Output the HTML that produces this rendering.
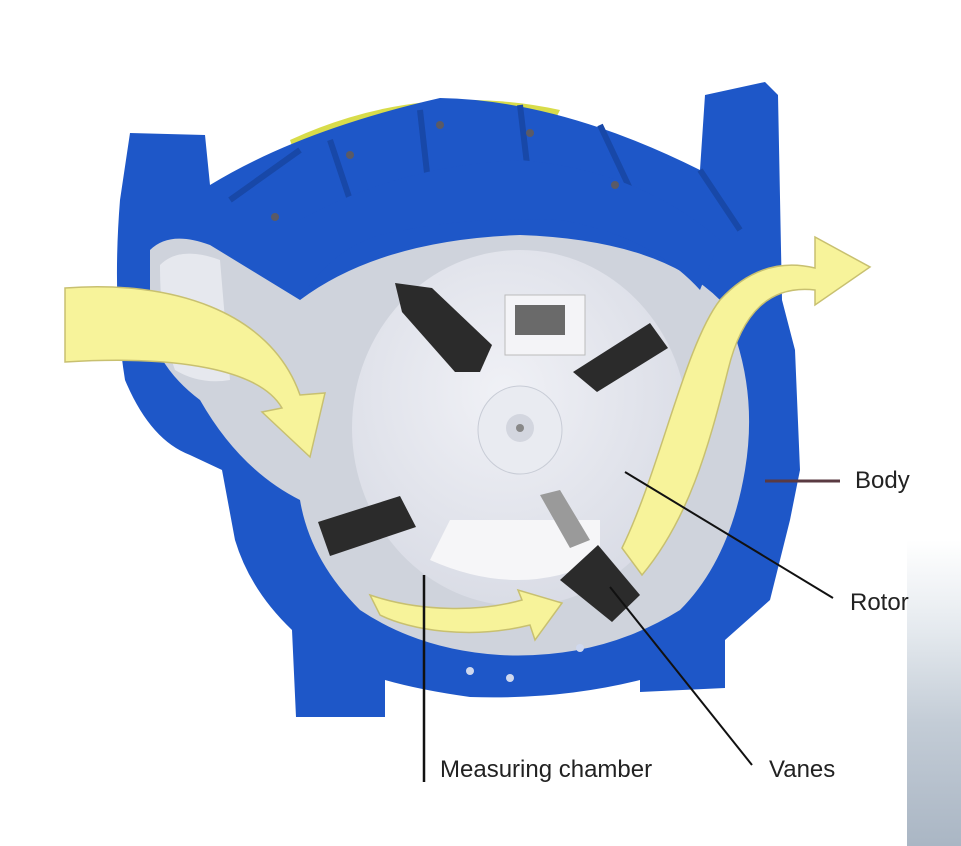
<!DOCTYPE html>
<html><head><meta charset="utf-8"><style>
html,body{margin:0;padding:0;background:#fff;}
svg{display:block}
text{font-family:"Liberation Sans",sans-serif;font-size:24px;fill:#222;font-weight:300}
</style></head><body>
<svg width="961" height="846" viewBox="0 0 961 846" xmlns="http://www.w3.org/2000/svg">
<defs>
<linearGradient id="sky" x1="0" y1="0" x2="0" y2="1">
<stop offset="0" stop-color="#ffffff"/><stop offset="0.3" stop-color="#e4e9ee"/><stop offset="0.6" stop-color="#c3ccd6"/><stop offset="1" stop-color="#aab6c4"/></linearGradient>
<radialGradient id="disc" cx="0.45" cy="0.4" r="0.7"><stop offset="0" stop-color="#f0f1f6"/><stop offset="1" stop-color="#d6d9e3"/></radialGradient>
</defs>
<rect width="961" height="846" fill="#fff"/>
<rect x="907" y="540" width="54" height="306" fill="url(#sky)"/>
<path d="M290,140 Q420,80 560,110 L540,150 L300,170 Z" fill="#d8dc4a"/>
<path d="M130,133 L205,135 L210,185 Q300,130 440,98 Q560,100 700,170 L705,95 L765,82 L778,95 L782,300 L795,350 L800,470 L790,520 L780,560 L770,600 L725,640 L725,688 L640,692 L640,680 Q560,700 470,697 Q420,690 385,680 L385,717 L296,717 L292,630 Q250,590 235,540 L222,470 L190,455 Q150,440 125,380 Q112,300 120,200 Z" fill="#1e57c8"/>
<path d="M230,200 L300,150 M330,140 L360,230 M420,110 L430,200 M520,105 L530,190 M600,125 L640,210 M700,170 L740,230" stroke="#1848a8" stroke-width="6" fill="none"/>
<path d="M150,250 Q170,230 210,245 L300,300 Q380,240 520,235 Q660,240 720,300 Q760,380 745,470 Q730,560 680,610 Q600,660 500,655 Q420,650 360,610 Q310,560 300,500 Q240,470 200,400 Q160,370 150,330 Z" fill="#cfd3dc"/>
<path d="M160,265 Q180,245 220,260 L230,380 Q200,385 175,370 Q160,330 160,265 Z" fill="#e6e8ee"/>
<ellipse cx="520" cy="428" rx="168" ry="178" fill="url(#disc)"/>
<ellipse cx="520" cy="430" rx="42" ry="44" fill="#e9ebf1" stroke="#c8ccd6"/>
<circle cx="520" cy="428" r="14" fill="#d3d6df"/>
<circle cx="520" cy="428" r="4" fill="#888"/>
<rect x="505" y="295" width="80" height="60" fill="#f4f4f7" stroke="#bbb"/>
<rect x="515" y="305" width="50" height="30" fill="#6a6a6a"/>
<path d="M430,560 Q520,600 600,560 L600,520 L450,520 Z" fill="#f6f6f8"/>
<path d="M395,283 L432,288 L492,345 L480,372 L455,372 L402,312 Z" fill="#2b2b2b"/>
<path d="M573,372 L650,323 L668,348 L597,392 Z" fill="#2b2b2b"/>
<path d="M318,522 L400,496 L416,527 L330,556 Z" fill="#2b2b2b"/>
<path d="M560,580 L598,545 L640,595 L612,622 Z" fill="#2b2b2b"/>
<path d="M540,495 L560,490 L590,540 L570,548 Z" fill="#9a9a9a"/>
<path d="M300,300 Q330,250 380,235 Q470,215 560,220 Q650,235 700,290 L720,240 Q640,170 520,160 Q400,165 300,220 Z" fill="#1e57c8"/>
<g fill="#5a5a66"><circle cx="275" cy="217" r="4"/><circle cx="350" cy="155" r="4"/><circle cx="440" cy="125" r="4"/><circle cx="530" cy="133" r="4"/><circle cx="615" cy="185" r="4"/><circle cx="470" cy="671" r="4" fill="#cfd8ee"/><circle cx="510" cy="678" r="4" fill="#cfd8ee"/><circle cx="580" cy="648" r="4" fill="#cfd8ee"/></g>
<g fill="#f7f39a" stroke="#c8c070" stroke-width="1.5">
<path d="M65,288 C170,280 270,310 300,395 L325,393 L310,457 L262,412 L282,408 C260,370 180,355 65,362 Z"/>
<path d="M370,595 C420,612 480,612 522,600 L518,590 L562,603 L535,640 L530,625 C470,640 410,630 380,615 Z"/>
<path d="M622,548 C660,470 685,345 720,300 C755,262 790,262 815,268 L815,237 L870,267 L815,305 L815,290 C770,285 742,312 728,370 C708,450 688,520 642,575 Z"/>
</g>
<line x1="765" y1="481" x2="840" y2="481" stroke="#5a3a42" stroke-width="3"/>
<line x1="625" y1="472" x2="833" y2="598" stroke="#111" stroke-width="2"/>
<line x1="610" y1="587" x2="752" y2="765" stroke="#111" stroke-width="2"/>
<line x1="424" y1="575" x2="424" y2="782" stroke="#111" stroke-width="2.5"/>
<text x="855" y="488">Body</text>
<text x="850" y="610">Rotor</text>
<text x="769" y="777">Vanes</text>
<text x="440" y="777">Measuring chamber</text>
</svg>
</body></html>
